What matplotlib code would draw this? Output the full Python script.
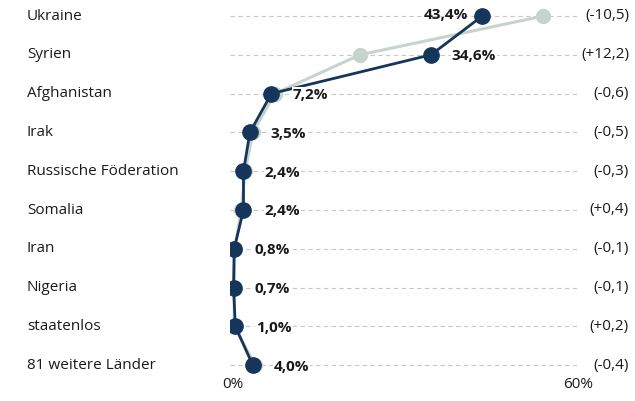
import matplotlib
matplotlib.use("Agg")
import matplotlib.pyplot as plt

# data
countries = ["Ukraine", "Syrien", "Afghanistan", "Irak", "Russische Föderation",
             "Somalia", "Iran", "Nigeria", "staatenlos", "81 weitere Länder"]
current = [43.4, 34.6, 7.2, 3.5, 2.4, 2.4, 0.8, 0.7, 1.0, 4.0]
change = [-10.5, 12.2, -0.6, -0.5, -0.3, 0.4, -0.1, -0.1, 0.2, -0.4]
previous = [c - d for c, d in zip(current, change)]
label_left = [True, False, False, False, False, False, False, False, False, False]

dark = "#15355a"
light = "#c6d4cd"
plt.rcParams['font.family'] = ['Open Sans', 'DejaVu Sans']
fs = 11

W, H = 635, 401
fig = plt.figure(figsize=(W / 100, H / 100), dpi=100)
x0, x1 = 229.5, 579  # pixel positions of 0% and 60%
ax = fig.add_axes([x0 / W, 0, (x1 - x0) / W, 1])
ax.set_xlim(0, 60)
step = 38.8
top = 16
ax.set_ylim((H - top) / step, -top / step)
ax.axis("off")

ypos = list(range(len(countries)))

# dashed grid lines
ax.hlines(ypos, 0, 60, colors="#c8c8c8", linestyles=(0, (4, 3)), linewidth=0.8, zorder=0)

# previous year (light) and current (dark)
ax.plot(previous, ypos, color=light, linewidth=2.2, marker="o", markersize=10, zorder=2)
ax.plot(current, ypos, color=dark, linewidth=2.0, marker="o", markersize=11, zorder=3)


def fmt(v):
    return f"{v:.1f}".replace(".", ",")


for y, name, c, d, left in zip(ypos, countries, current, change, label_left):
    # country name
    fig.text(27 / W, 1 - (top + y * step) / H, name, ha="left", va="center", fontsize=fs, color="#1a1a1a")
    # change in brackets
    sign = "+" if d > 0 else "-"
    fig.text(629 / W, 1 - (top + y * step) / H, "(" + sign + fmt(abs(d)) + ")",
             ha="right", va="center", fontsize=fs, color="#1a1a1a")
    # value label
    if left:
        ax.annotate(fmt(c) + "%", (c, y), xytext=(-10, 1), textcoords="offset points",
                    ha="right", va="center", fontsize=fs, fontweight="bold", color="#1a1a1a", zorder=4)
    else:
        ax.annotate(fmt(c) + "%", (c, y), xytext=(15, -1), textcoords="offset points",
                    ha="left", va="center", fontsize=fs, fontweight="bold", color="#1a1a1a", zorder=4,
                    bbox=dict(boxstyle="square,pad=0.05", fc="white", ec="none"))

# x tick labels
fig.text(233 / W, 1 - 385 / H, "0%", ha="center", va="center", fontsize=fs, color="#1a1a1a")
fig.text(578 / W, 1 - 385 / H, "60%", ha="center", va="center", fontsize=fs, color="#1a1a1a")

fig.savefig("out.png", dpi=100)
